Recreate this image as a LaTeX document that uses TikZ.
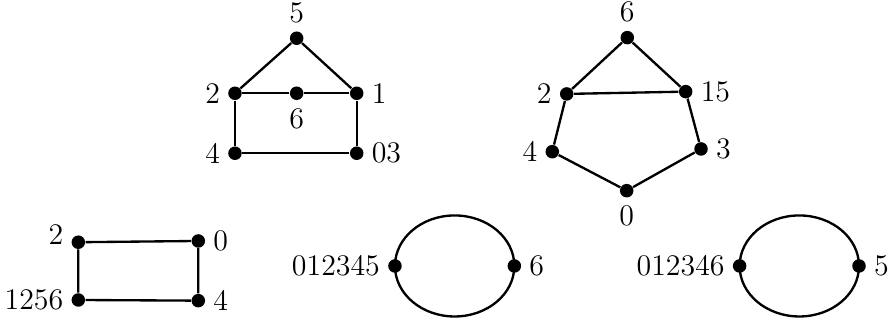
\documentclass[tikz,border=0pt]{standalone}
\usepackage{tikz}

\begin{document}
\begin{tikzpicture}[
    vert/.style={circle, fill, inner sep=0pt, minimum size=5.2pt},
    link/.style={line width=0.9pt},
    every label/.style={font=\fontsize{11.5}{14}\selectfont, inner sep=2.8pt}
]
\useasboundingbox (0,0) rectangle (12.006,4.353);

% --- house graph ---
\node[vert, label=above:5] (h5) at (4.011,3.836) {};
\node[vert, label=left:2] (h2) at (3.177,3.092) {};
\node[vert, label=below:6] (h6) at (4.011,3.092) {};
\node[vert, label=right:1] (h1) at (4.823,3.092) {};
\node[vert, label=left:4] (h4) at (3.177,2.281) {};
\node[vert, label=right:03] (h03) at (4.823,2.281) {};

\draw[link] (h2) -- (h5) -- (h1);
\draw[link] (h2) -- (h6) -- (h1);
\draw[link] (h2) -- (h4) -- (h03) -- (h1);

% --- pentagon graph ---
\node[vert, label=above:6] (p6) at (8.481,3.844) {};
\node[vert, label=left:2] (p2) at (7.662,3.083) {};
\node[vert, label=right:15] (p15) at (9.271,3.114) {};
\node[vert, label=left:4] (p4) at (7.467,2.302) {};
\node[vert, label=right:3] (p3) at (9.478,2.339) {};
\node[vert, label=below:0] (p0) at (8.473,1.775) {};

\draw[link] (p2) -- (p6) -- (p15) -- (p2);
\draw[link] (p2) -- (p4) -- (p0) -- (p3) -- (p15);

% --- square graph ---
\node[vert, label={[yshift=3pt]left:2}] (s2) at (1.059,1.078) {};
\node[vert, label=right:0] (s0) at (2.681,1.095) {};
\node[vert, label=left:1256] (s1256) at (1.059,0.297) {};
\node[vert, label=right:4] (s4) at (2.681,0.288) {};

\draw[link] (s2) -- (s0) -- (s4) -- (s1256) -- (s2);

% --- two-vertex cycles ---
\node[vert, label=left:012345] (a012345) at (5.340,0.757) {};
\node[vert, label=right:6] (a6) at (6.954,0.757) {};
\draw[link] (a012345.center) arc[start angle=180, end angle=0, x radius=0.807, y radius=0.683];
\draw[link] (a012345.center) arc[start angle=180, end angle=360, x radius=0.807, y radius=0.683];

\node[vert, label=left:012346] (b012346) at (10.000,0.757) {};
\node[vert, label=right:5] (b5) at (11.614,0.757) {};
\draw[link] (b012346.center) arc[start angle=180, end angle=0, x radius=0.807, y radius=0.683];
\draw[link] (b012346.center) arc[start angle=180, end angle=360, x radius=0.807, y radius=0.683];

\end{tikzpicture}
\end{document}
